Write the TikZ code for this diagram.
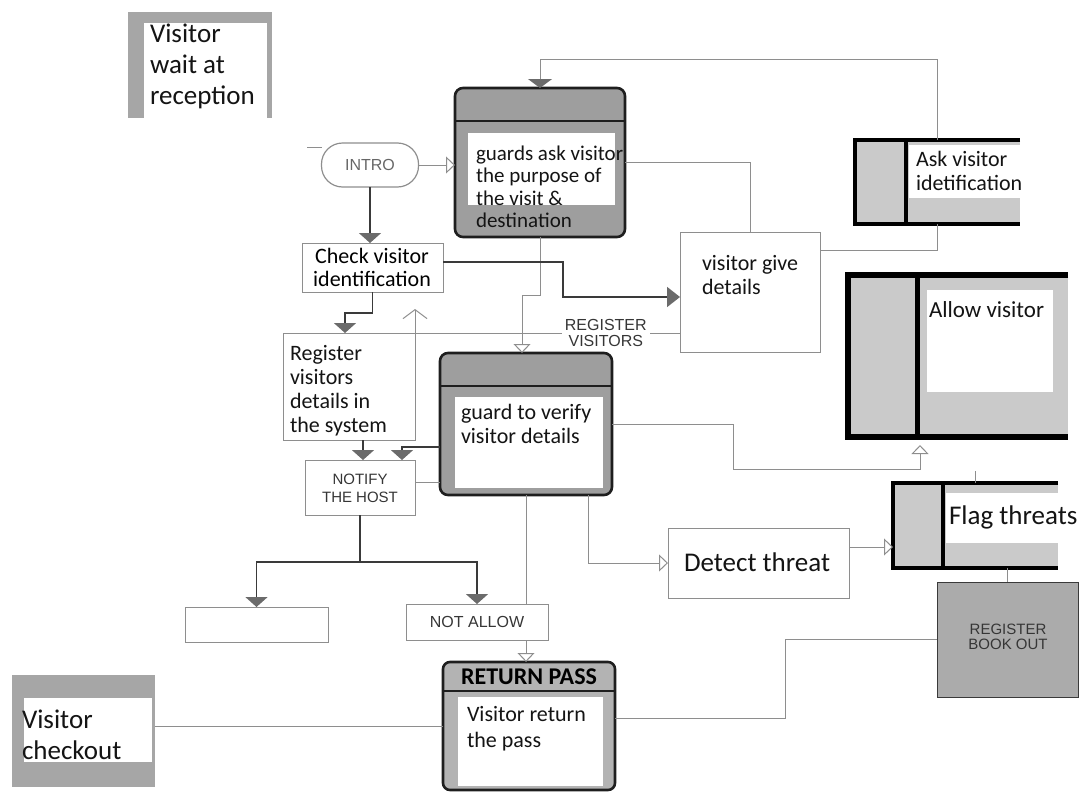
\documentclass[tikz,border=0pt]{standalone}
\usepackage{fontspec}
\setmainfont{Carlito}
\newfontfamily\arialfont{Liberation Sans}
\usetikzlibrary{arrows.meta,fit}

\definecolor{panelgray}{HTML}{9E9E9E}
\definecolor{lanegray}{HTML}{CACACA}
\definecolor{framegray}{HTML}{A6A6A6}
\definecolor{passgray}{HTML}{B3B3B3}
\definecolor{bookgray}{HTML}{ABABAB}
\definecolor{thingray}{HTML}{8E8E8E}
\definecolor{flowdark}{HTML}{3A3A3A}
\definecolor{tipgray}{HTML}{6B6B6B}
\definecolor{capsink}{HTML}{363636}
\definecolor{edgedark}{HTML}{1E1E1E}

\newcommand{\fsz}[2]{\fontsize{#1}{#2}\selectfont}

\begin{document}
\begin{tikzpicture}[x=1pt,y=-1pt,
  every node/.style={inner sep=0pt,outer sep=0pt},
  region/.style={fit={#1},inner sep=0pt},
  plainbox/.style={draw=thingray,line width=1pt,fill=white},
  panel/.style={draw=edgedark,line width=2.6pt,fill=panelgray,rounded corners=8pt},
  lane/.style={fill=lanegray},
  thinlink/.style={draw=thingray,line width=1pt},
  flowlink/.style={draw=flowdark,line width=1.8pt},
  solidtip/.style={-{Triangle[length=10pt,width=22pt,color=tipgray,fill=tipgray]}},
  hollowtip/.style={-{Triangle[open,length=9pt,width=17pt,color=thingray,fill=white]}},
  barbtip/.style={-{Straight Barb[length=9pt,width=24pt]}},
  body/.style={anchor=west,align=left,text=black!92},
  caps/.style={text=capsink,align=center},
]
\useasboundingbox (0,0) rectangle (1086,803);

% ---- waiting area ----
\node[region={(128,12) (272,118)},fill=framegray] (wait) {};
\node[region={(144,23) (267,118)},fill=white] (waitpad) {};
\node[body,font=\fsz{27}{31}] (waittext) at (150,66) {Visitor\\wait at\\reception};

% ---- start ----
\node[draw=thingray,line width=1.2pt,rounded corners=21pt,minimum width=97pt,minimum height=44pt,
      font=\arialfont\fsz{16}{16},text=black!60] (intro) at (370,165) {INTRO};

% ---- guards ask ----
\node[panel,region={(455,88) (625,237)}] (guards) {};
\draw[edgedark,line width=2pt] (456,121) -- (624,121);
\node[region={(468,133) (615,205)},fill=white] (guardspad) {};
\node[body,font=\fsz{21}{22.5}] (guardstext) at (476,187) {guards ask visitor\\the purpose of\\the visit \&\\destination};

% ---- ask identification ----
\node[region={(855,140) (1020,224)},lane] (ask) {};
\node[region={(909,145) (1020,198)},fill=white] (askpad) {};
\draw[black,line width=4pt,line join=miter] (ask.north east) -- (ask.north west) -- (ask.south west) -- (ask.south east);
\draw[black,line width=4pt] (906,140) -- (906,224);
\node[body,font=\fsz{22}{24}] (asktext) at (916,171) {Ask visitor\\idetification};

% ---- allow ----
\node[region={(848,275) (1068,437)},lane] (allow) {};
\node[region={(927,290) (1053,392)},fill=white] (allowpad) {};
\draw[black,line width=6pt,line join=miter] (allow.north east) -- (allow.north west) -- (allow.south west) -- (allow.south east);
\draw[black,line width=5pt] (917,275) -- (917,437);
\node[body,font=\fsz{23}{23}] (allowtext) at (929,310) {Allow visitor};

% ---- flag threats ----
\node[region={(893,483) (1058,568)},lane] (flag) {};
\node[region={(946,493) (1058,543)},fill=white] (flagpad) {};
\draw[black,line width=4pt,line join=miter] (flag.north east) -- (flag.north west) -- (flag.south west) -- (flag.south east);
\draw[black,line width=4pt] (943,483) -- (943,568);
\node[body,font=\fsz{27}{27}] (flagtext) at (949,517) {Flag threats};

% ---- plain boxes ----
\node[plainbox,region={(680,232) (820,352)}] (give) {};
\node[body,font=\fsz{22}{24}] (givetext) at (702,275) {visitor give\\details};

\node[plainbox,region={(302,243) (443,292)}] (check) {};
\node[font=\fsz{22}{23},align=center] (checktext) at (372,267) {Check visitor\\identification};

\node[plainbox,region={(283,333) (415,440)}] (register) {};
\node[body,font=\fsz{22}{24}] (registertext) at (290,391) {Register\\visitors\\details in\\the system};

% ---- guard verifies ----
\node[panel,region={(440,353) (612,495)}] (verify) {};
\draw[edgedark,line width=2pt] (441,386) -- (611,386);
\node[region={(455,397) (603,488)},fill=white] (verifypad) {};
\node[body,font=\fsz{22}{24}] (verifytext) at (461,424) {guard to verify\\visitor details};

\node[plainbox,region={(305,460) (415,515)}] (notify) {};
\node[caps,font=\arialfont\fsz{15}{18}] (notifytext) at (360,488) {NOTIFY\\THE HOST};

\node[plainbox,region={(185,607) (328,642)}] (blank) {};
\node[plainbox,region={(406,604) (548,640)}] (notallow) {};
\node[caps,font=\arialfont\fsz{16}{16}] (notallowtext) at (477,622) {NOT ALLOW};

\node[plainbox,region={(668,528) (849,598)}] (detect) {};
\node[body,font=\fsz{27}{27}] (detecttext) at (684,562) {Detect threat};

\node[region={(937,582) (1078,697)},fill=bookgray,draw=flowdark,line width=1pt] (book) {};
\node[caps,font=\arialfont\fsz{15}{14.5}] (booktext) at (1008,637) {REGISTER\\BOOK OUT};

% ---- return pass ----
\node[panel,fill=passgray,rounded corners=7pt,region={(443,662) (615,790)}] (retpass) {};
\draw[edgedark,line width=2pt] (444,691) -- (614,691);
\node[region={(458,697) (603,786)},fill=white] (retpasspad) {};
\node[font=\bfseries\fsz{24}{24}] (retpasshead) at (529,677) {RETURN PASS};
\node[body,font=\fsz{22}{26}] (retpasstext) at (467,729) {Visitor return\\the pass};

% ---- checkout ----
\node[region={(12,675) (155,787)},fill=framegray] (checkout) {};
\node[region={(24,698) (152,762)},fill=white] (checkoutpad) {};
\node[body,font=\fsz{27}{31}] (checkouttext) at (22,735) {Visitor\\checkout};

% ---- connectors ----
\coordinate (introfeed) at (307,147);
\draw[thinlink] (introfeed) -- (intro.north west |- introfeed);
\draw[thinlink,hollowtip] (intro.east) -- (intro.east -| guards.west);

\coordinate (loopright) at (937.5,59);
\coordinate (loopleft) at (540,59);
\draw[thinlink,-{Triangle[length=9pt,width=24pt,color=tipgray,fill=tipgray]}]
  (ask.north) -- (loopright) -- (loopleft) -- (guards.north);

\draw[thinlink] (guards.east) -| (give.north);
\draw[thinlink] ([yshift=42pt]give.east) -| (ask.south);
\draw[thinlink,hollowtip] (guards.south) -- ++(0,58) -| ([xshift=-4pt]verify.north);

\draw[flowlink,solidtip] (intro.south) -- (intro.south |- check.north);
\coordinate (checkbend) at (563,262);
\draw[flowlink,-{Triangle[length=13pt,width=20pt,color=tipgray,fill=tipgray]}]
  ([yshift=5.5pt]check.east) -- (checkbend) |- ([yshift=-5pt]give.west);
\draw[flowlink,solidtip] (check.south) -- ++(0,21) -| ([xshift=-4pt]register.north);

\coordinate (regreturn) at (415,309);
\draw[thinlink,barbtip] ([yshift=-41pt]give.west) -| (regreturn)
  node[pos=0.14,fill=white,inner xsep=3pt,inner ysep=1pt,font=\arialfont\fsz{16}{16},text=capsink,align=center] (regvis) {REGISTER\\VISITORS};

\path (register.south) ++(14,0) coordinate (regdrop);
\draw[flowlink,solidtip] (regdrop) -- (regdrop |- notify.north);

\path (verify.west) ++(0,23) coordinate (verifyout);
\draw[flowlink,solidtip] (verifyout) -| ([xshift=42pt]notify.north);
\path (verify.west) ++(0,58) coordinate (verifyside);
\draw[thinlink] (verifyside) -- (verifyside -| notify.east);

\draw[flowlink] (notify.south) -- ++(0,47) coordinate (hostsplit);
\draw[flowlink,solidtip] (hostsplit) -| (blank.north);
\draw[flowlink,solidtip] (hostsplit) -| (notallow.north);

\draw[thinlink] (verify.south) -- (verify.south |- notallow.north);
\draw[thinlink,hollowtip] (verify.south |- notallow.south) -- (verify.south |- retpass.north);

\path (verify.south) ++(62,0) coordinate (threatdrop);
\draw[thinlink,hollowtip] (threatdrop) |- (detect.west);

\path (allow.south west) ++(72,8) coordinate (allowin);
\draw[thinlink,hollowtip] (verify.east) -- ++(121,0) -- ++(0,45) -| (allowin);

\path (detect.east) ++(0,-16) coordinate (detectout);
\draw[thinlink,hollowtip] (detectout) -- (detectout -| flag.west);

\draw[thinlink] (book.north |- flag.south) -- (book.north);
\draw[thinlink] (flag.north) -- ++(0,-12);

\path (book.west) ++(-152,0) coordinate (bookbend);
\draw[thinlink] (book.west) -- (bookbend) |- ([yshift=8pt]retpass.east);

\draw[thinlink] (retpass.west) -- (retpass.west -| checkout.east);
\end{tikzpicture}
\end{document}
